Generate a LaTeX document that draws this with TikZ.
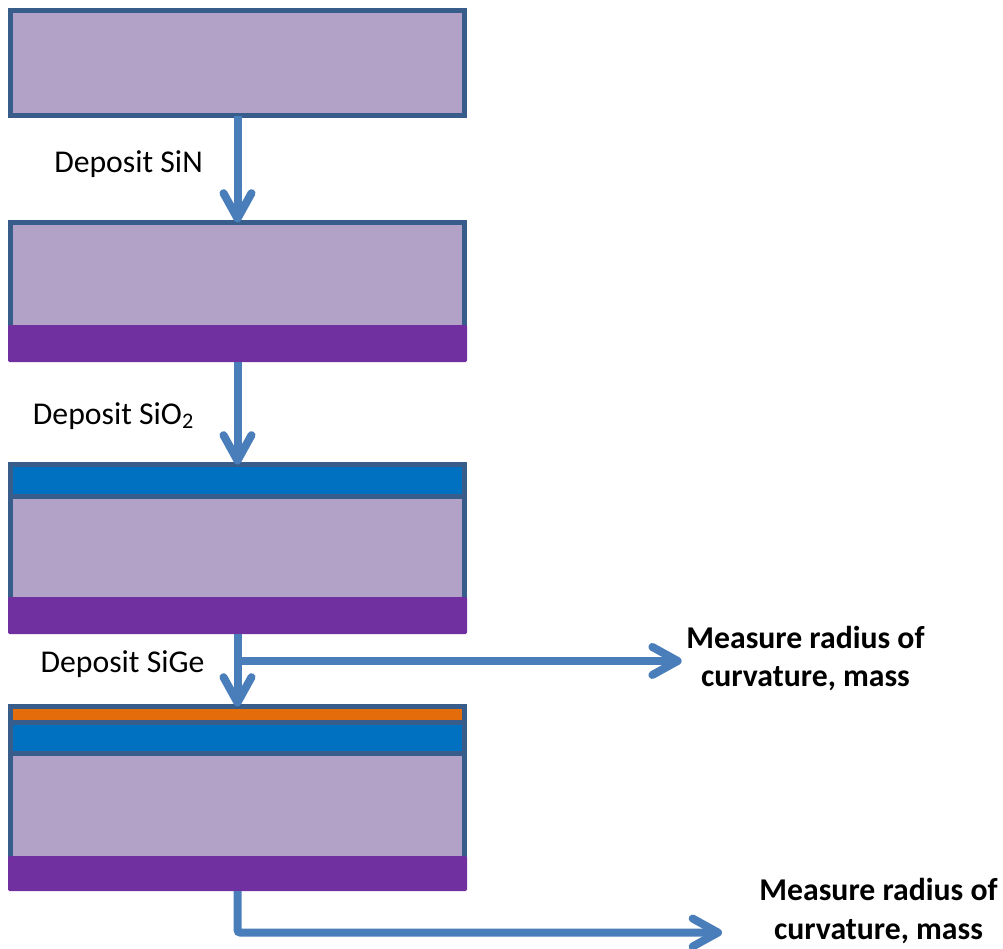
\documentclass[tikz,border=0pt]{standalone}
\usepackage{fontspec}
\setmainfont{Carlito}
\usetikzlibrary{positioning,arrows.meta,calc}

\definecolor{edge}{HTML}{385D8A}
\definecolor{wafer}{HTML}{B3A2C7}
\definecolor{sinlayer}{HTML}{7030A0}
\definecolor{oxlayer}{HTML}{0070C0}
\definecolor{sigelayer}{HTML}{E46C0A}
\definecolor{flow}{HTML}{4A7EBB}

\begin{document}
\begin{tikzpicture}[x=1pt,y=-1pt,
  every node/.style={font=\fontsize{23.8}{28.8}\selectfont},
  layer/.style={rectangle,draw=edge,line width=3.75pt,minimum width=340.5pt,inner sep=0pt,outer sep=0pt},
  nitride/.style={rectangle,fill=sinlayer,minimum width=344.25pt,minimum height=27.75pt,inner sep=0pt,outer sep=0pt,rounded corners=1pt},
  flowarrow/.style={draw=flow,line width=6pt,-{Straight Barb[length=19pt,width=21pt,round]}},
  lbl/.style={anchor=base},
  result/.style={align=center,font=\fontsize{23.8}{28.8}\selectfont\bfseries}]
  \useasboundingbox (0,0) rectangle (752.25,711.75);

  % wafer stacks
  \node[layer,fill=wafer,minimum height=78.75pt] (w1) at (178.125,47.25) {};
  \node[layer,fill=wafer,minimum height=78.75pt,below=80.25pt of w1] (w2) {};
  \node[nitride,below=-1.875pt of w2] (n2) {};
  \node[layer,fill=oxlayer,minimum height=23.625pt,below=76.875pt of n2] (o3) {};
  \node[layer,fill=wafer,minimum height=78pt,below=0pt of o3] (w3) {};
  \node[nitride,below=-2.25pt of w3] (n3) {};
  \node[layer,fill=sigelayer,minimum height=12pt,below=54.375pt of n3] (g4) {};
  \node[layer,fill=oxlayer,minimum height=22.875pt,below=0pt of g4] (o4) {};
  \node[layer,fill=wafer,minimum height=79.125pt,below=0pt of o4] (w4) {};
  \node[nitride,minimum height=26.25pt,below=-1.875pt of w4] (n4) {};

  % step labels
  \node[lbl] (d1) at (96.4,129) {Deposit SiN};
  \node[lbl] (d2) at (85.1,318) {Deposit SiO\textsubscript{2}};
  \node[lbl] (d3) at (91.9,504) {Deposit SiGe};

  \node[result] (m1) at (604.1,494) {Measure radius of\\curvature, mass};
  \node[result] (m2) at (658.9,683.25) {Measure radius of\\curvature, mass};

  \coordinate (br) at ($(n3.south)!0.372!(g4.north)$);
  \coordinate (t4) at (541.5,699.4);

  \draw[flowarrow] (w1.south) -- (w2.north);
  \draw[flowarrow] (n2.south) -- (o3.north);
  \draw[flowarrow] (n3.south) -- (g4.north);
  \draw[flowarrow] (br) -- (br -| m1.west);
  \draw[flowarrow,rounded corners=2pt] (n4.south) |- (t4);
\end{tikzpicture}
\end{document}
